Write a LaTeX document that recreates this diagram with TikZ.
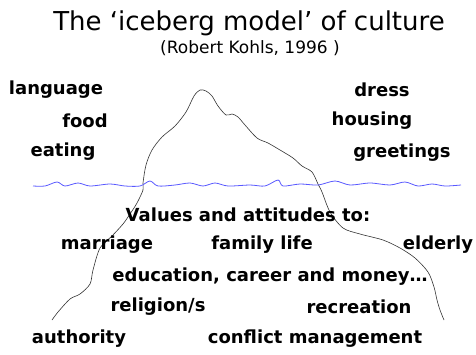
\documentclass[tikz,border=0pt]{standalone}
\usepackage{fontspec}
\setmainfont{DejaVu Sans}
\begin{document}
\begin{tikzpicture}[x=1pt,y=-1pt,
  lbl/.style={inner sep=0pt,font=\fontsize{18}{21}\selectfont\bfseries},
  berg/.style={draw=black!80,line width=0.6pt},
  water/.style={draw=blue!65,line width=0.8pt}]
\useasboundingbox (0,0) rectangle (476,354);
\node[inner sep=0pt,font=\fontsize{26}{30}\selectfont] (title) at (249,23) {The ‘iceberg model’ of culture};
\node[inner sep=0pt,font=\fontsize{17}{20}\selectfont] (sub) at (250,48) {(Robert Kohls, 1996 )};
% iceberg
\draw[berg] plot[smooth,tension=0.5] coordinates {(52,320) (58,312) (70,299) (80,294) (90,284) (93,270) (100,248) (112,236) (123,224) (130,214) (137,203) (143,190) (143,183) (146,165) (152,150) (162,137) (175,126) (186,112) (194,96) (200,90) (206,91) (212,96) (218,106) (226,115) (232,114) (238,117) (245,125) (257,138) (268,143) (280,150) (293,158) (302,166) (312,172) (318,184) (322,192) (330,212) (343,228) (360,234) (383,240) (400,248) (415,258) (428,272) (434,287) (437,300) (440,310) (444,320)};
% water line
\draw[water] plot[smooth,tension=0.5] coordinates {(33,186) (45,186) (57,182) (65,186) (78,183) (90,186) (110,184) (125,186) (140,186) (150,181) (158,186) (175,185) (190,183) (203,186) (215,183) (228,186) (250,185) (265,186) (278,180) (283,186) (300,184) (318,185) (335,181) (350,185) (370,183) (390,185) (405,182) (418,186) (432,184) (445,186) (461,185)};
% above water
\node[lbl] (language) at (56,90) {language};
\node[lbl] (food) at (85,121) {food};
\node[lbl] (eating) at (63,152) {eating};
\node[lbl] (dress) at (382,90) {dress};
\node[lbl] (housing) at (372,121) {housing};
\node[lbl] (greetings) at (402,153) {greetings};
% below water
\node[lbl] (values) at (248,215) {Values and attitudes to:};
\node[lbl] (marriage) at (107,245) {marriage};
\node[lbl] (family) at (262,245) {family life};
\node[lbl] (elderly) at (438,245) {elderly};
\node[lbl] (edu) at (270,277) {education, career and money…};
\node[lbl] (religion) at (158,307) {religion/s};
\node[lbl] (recreation) at (359,307) {recreation};
\node[lbl] (authority) at (79,339) {authority};
\node[lbl] (conflict) at (315,339) {conflict management};
\end{tikzpicture}
\end{document}
